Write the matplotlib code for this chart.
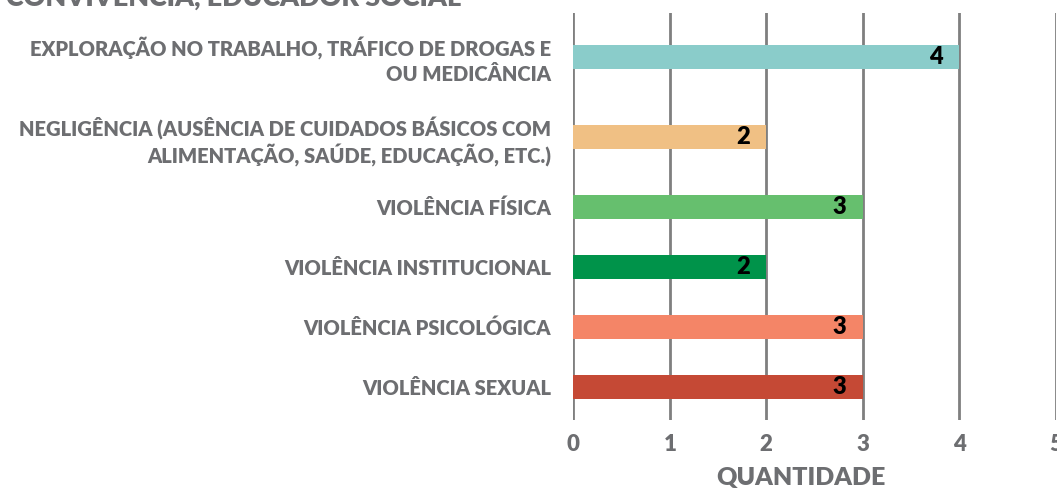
import matplotlib
matplotlib.use("Agg")
import matplotlib.pyplot as plt
from matplotlib.ticker import FixedLocator

# --- data -------------------------------------------------------------
categories = [
    "EXPLORAÇÃO NO TRABALHO, TRÁFICO DE DROGAS E\nOU MEDICÂNCIA",
    "NEGLIGÊNCIA (AUSÊNCIA DE CUIDADOS BÁSICOS COM\nALIMENTAÇÃO, SAÚDE, EDUCAÇÃO, ETC.)",
    "VIOLÊNCIA FÍSICA",
    "VIOLÊNCIA INSTITUCIONAL",
    "VIOLÊNCIA PSICOLÓGICA",
    "VIOLÊNCIA SEXUAL",
]
values = [4, 2, 3, 2, 3, 3]
colors = ["#8ACCCA", "#F0C084", "#66BF6E", "#00934A", "#F48567", "#C54935"]
x_ticks = [0, 1, 2, 3, 4, 5]
title = "CONVIVÊNCIA, EDUCADOR SOCIAL"
x_label = "QUANTIDADE"

# --- style ------------------------------------------------------------
GRAY = "#6D6E71"
GRID = "#7F7F7F"
FONT = ["Lato", "DejaVu Sans"]
plt.rcParams["font.family"] = FONT

W, H = 1057, 490
fig = plt.figure(figsize=(W / 100, H / 100), dpi=100)

# plot area in pixels: x from 573 to 1056, y from 13 to 420
left_px, right_px, top_px, bot_px = 573, 1056, 13, 420
xmin, xmax = -0.005, 5.005
ax = fig.add_axes([left_px / W, 1 - bot_px / H,
                   (right_px - left_px) / W, (bot_px - top_px) / H])

# rows with wrapped labels take a little more room
pos = []
y = 0.0
prev_extra = 0.0
for i, cat in enumerate(categories):
    extra = (cat.count("\n")) / 6.0
    if i > 0:
        y += 1.0 + prev_extra + extra
    pos.append(y)
    prev_extra = extra

ax.barh(pos, values, height=0.385, color=colors, zorder=3)

for p, v in zip(pos, values):
    ax.annotate(str(v), xy=(v, p), xytext=(-12, 0), textcoords="offset points",
                ha="right", va="center", fontsize=17, fontweight="heavy",
                color="black", zorder=4)

ax.set_xlim(xmin, xmax)
ax.set_ylim(pos[-1] + 0.55, pos[0] - 0.733)
ax.xaxis.set_major_locator(FixedLocator(x_ticks))
ax.set_xticklabels([str(t) for t in x_ticks])
ax.set_yticks(pos)
ax.set_yticklabels(categories, linespacing=1.265)

ax.grid(axis="x", color=GRID, linewidth=2, zorder=1)
for s in ax.spines.values():
    s.set_visible(False)
ax.tick_params(axis="both", length=0)
ax.tick_params(axis="x", pad=10, labelsize=16, labelcolor=GRAY)
ax.tick_params(axis="y", pad=16, labelsize=14.5, labelcolor=GRAY)
for t in ax.get_xticklabels():
    t.set_fontweight("heavy")
for t in ax.get_yticklabels():
    t.set_fontweight("heavy")
    t.set_multialignment("right")

ax.set_xlabel(x_label, fontsize=18, fontweight="heavy", color=GRAY)
ax.xaxis.set_label_coords(0.472, -0.115)

fig.text(0.006, 1 - 6 / H, title, fontsize=19.4, fontweight="heavy",
         color=GRAY, ha="left", va="baseline")

fig.savefig("out.png", dpi=100, facecolor="white")
